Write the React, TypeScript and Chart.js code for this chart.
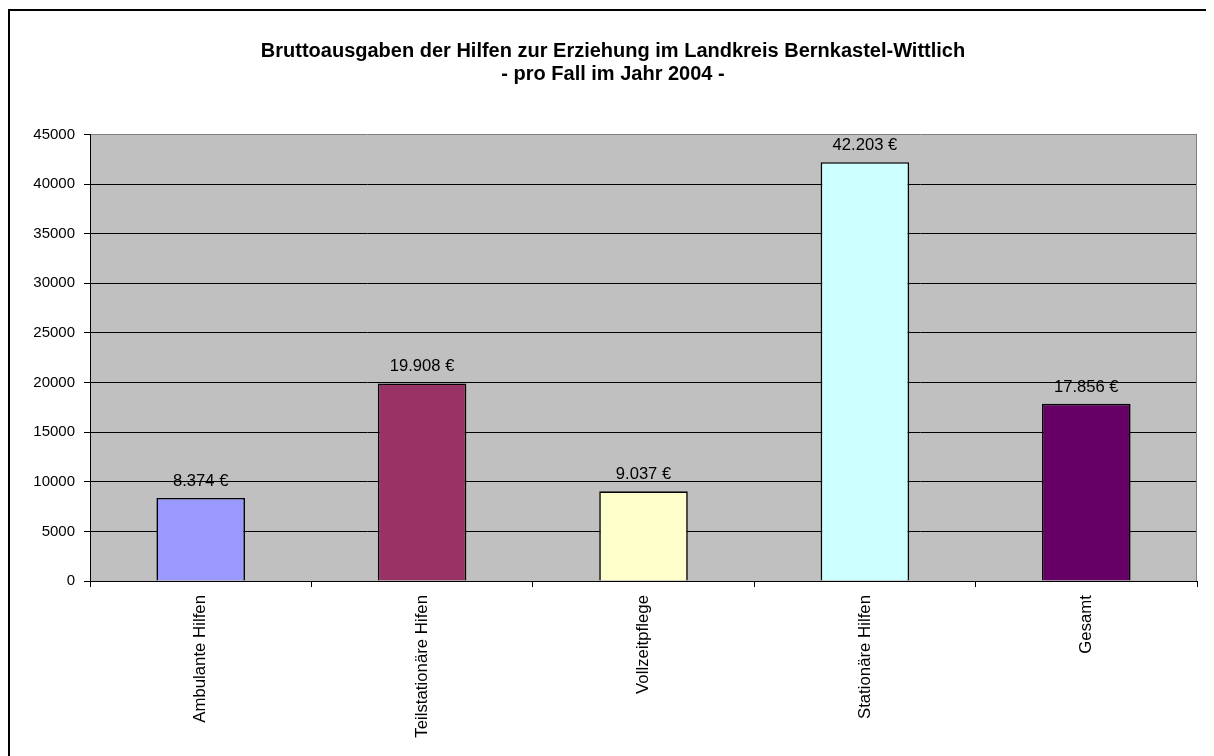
import React, { useEffect, useRef } from 'react';
import { Chart, registerables } from 'chart.js';

Chart.register(...registerables);

const categories = ['Ambulante Hilfen', 'Teilstationäre Hifen', 'Vollzeitpflege', 'Stationäre Hilfen', 'Gesamt'];
const values = [8374, 19908, 9037, 42203, 17856];
const valueLabels = ['8.374 €', '19.908 €', '9.037 €', '42.203 €', '17.856 €'];
const barColors = ['#9999FF', '#993366', '#FFFFCC', '#CCFFFF', '#660066'];
const titleLines = ['Bruttoausgaben der Hilfen zur Erziehung im Landkreis Bernkastel-Wittlich', '- pro Fall im Jahr 2004 -'];
const yMax = 45000;
const yStep = 5000;

const FONT = "'Liberation Sans', Arial, sans-serif";
const W = 1206;
const H = 748;

const decorPlugin = {
  id: 'decor',
  beforeDraw(chart: any) {
    const { ctx, chartArea } = chart;
    ctx.save();
    ctx.fillStyle = '#FFFFFF';
    ctx.fillRect(0, 0, chart.width, chart.height);
    ctx.fillStyle = '#C0C0C0';
    ctx.fillRect(chartArea.left, chartArea.top, chartArea.right - chartArea.left, chartArea.bottom - chartArea.top);
    // outer frame (left + top)
    ctx.fillStyle = '#000000';
    ctx.fillRect(0, 1, 2, chart.height);
    ctx.fillRect(0, 1, chart.width, 2);
    ctx.restore();
  },
  afterDatasetsDraw(chart: any) {
    const { ctx, chartArea } = chart;
    ctx.save();
    ctx.strokeStyle = '#808080';
    ctx.lineWidth = 1;
    ctx.beginPath();
    const rx = Math.round(chartArea.right) - 0.5;
    ctx.moveTo(rx, chartArea.top);
    ctx.lineTo(rx, chartArea.bottom);
    ctx.stroke();
    const meta = chart.getDatasetMeta(0);
    ctx.fillStyle = '#000000';
    ctx.font = `16.6px ${FONT}`;
    ctx.textAlign = 'center';
    ctx.textBaseline = 'alphabetic';
    meta.data.forEach((bar: any, i: number) => {
      ctx.fillText(valueLabels[i], bar.x, bar.y - 12);
    });
    ctx.restore();
  },
  afterDraw(chart: any) {
    const { ctx } = chart;
    ctx.save();
    ctx.fillStyle = '#000000';
    ctx.font = `bold 20px ${FONT}`;
    ctx.textAlign = 'center';
    ctx.textBaseline = 'alphabetic';
    ctx.fillText(titleLines[0], 605, 49);
    ctx.fillText(titleLines[1], 605, 72);
    ctx.restore();
  },
};

export default function App() {
  const ref = useRef<HTMLCanvasElement>(null);
  useEffect(() => {
    document.body.style.overflow = 'hidden';
    const canvas = ref.current!;
    const chart = new Chart(canvas, {
      type: 'bar',
      data: {
        labels: categories,
        datasets: [
          {
            data: values,
            backgroundColor: barColors,
            borderColor: '#000000',
            borderWidth: 1.6,
            categoryPercentage: 1,
            barPercentage: 0.4,
          },
        ],
      },
      options: {
        responsive: false,
        animation: false,
        devicePixelRatio: 1,
        layout: { padding: { top: 126.5, right: 17, bottom: 0, left: 0 } },
        plugins: {
          legend: { display: false },
          tooltip: { enabled: false },
          title: { display: false },
        },
        scales: {
          x: {
            afterFit(scale: any) {
              scale.height = 175;
            },
            grid: {
              offset: true,
              drawOnChartArea: false,
              drawTicks: true,
              tickLength: 6,
              color: '#000000',
              tickColor: '#000000',
            },
            border: { display: true, color: '#000000', width: 1 },
            ticks: {
              minRotation: 90,
              maxRotation: 90,
              autoSkip: false,
              padding: 8,
              color: '#000000',
              font: { family: FONT, size: 16.8 },
            },
          },
          y: {
            min: 0,
            max: yMax,
            afterFit(scale: any) {
              scale.width = 82;
            },
            grid: {
              color: (c: any) => (c.tick && c.tick.value === yMax ? '#808080' : '#000000'),
              tickColor: '#000000',
              tickLength: 6,
              lineWidth: 1,
            },
            border: { display: true, color: '#000000', width: 1 },
            ticks: {
              stepSize: yStep,
              padding: 9,
              color: '#000000',
              font: { family: FONT, size: 15 },
              callback: (v: any) => String(v),
            },
          },
        },
      },
      plugins: [decorPlugin],
    });
    return () => chart.destroy();
  }, []);
  return <canvas ref={ref} width={W} height={H} style={{ display: 'block', width: W, height: H }} />;
}
